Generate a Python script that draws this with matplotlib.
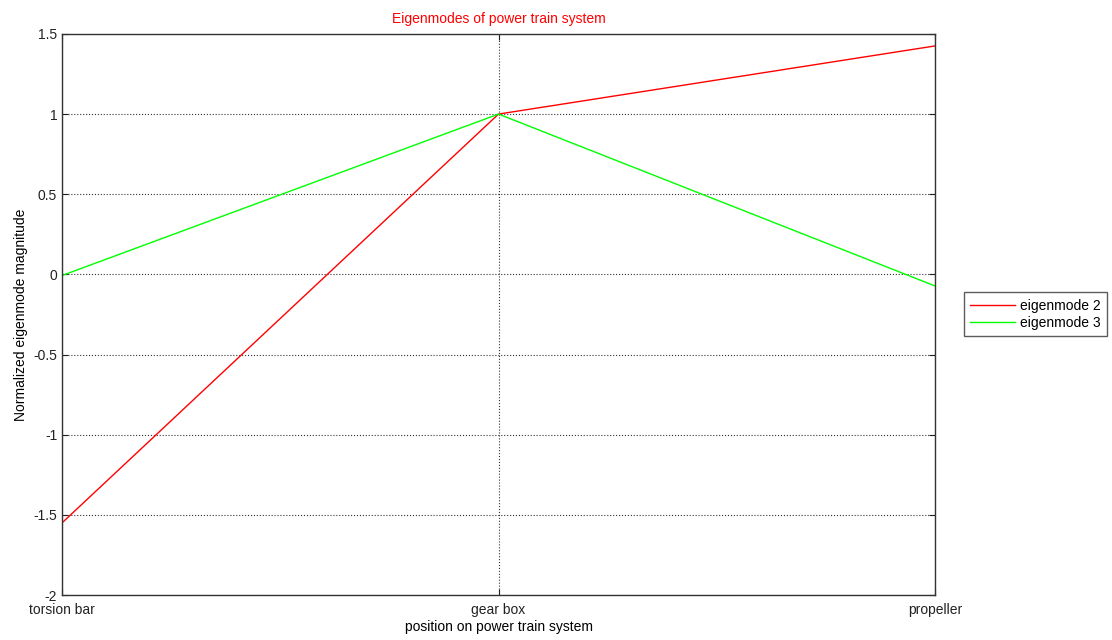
import matplotlib.pyplot as plt

plt.rcParams['font.family'] = ['Liberation Sans', 'DejaVu Sans']

positions = ['torsion bar', 'gear box', 'propeller']
mode2 = [-1.55, 1.0, 1.425]
mode3 = [-0.007, 1.0, -0.072]
yticks = [-2, -1.5, -1, -0.5, 0, 0.5, 1, 1.5]

fig = plt.figure(figsize=(11.12, 6.4), dpi=100)
ax = fig.add_axes([0.0558, 0.0703, 0.785, 0.8767])

x = range(len(positions))
ax.plot(x, mode2, color='#ff0000', lw=1, label='eigenmode 2')
ax.plot(x, mode3, color='#00ff00', lw=1, label='eigenmode 3')

ax.set_xlim(0, 2)
ax.set_ylim(-2, 1.5)
ax.set_xticks(list(x))
ax.set_xticklabels(positions)
ax.set_yticks(yticks)
ax.set_yticklabels(['%g' % v for v in yticks])
ax.tick_params(direction='in', length=4, labelsize=10, colors='#222222', right=True, top=True)
ax.tick_params(axis='x', pad=6)
ax.grid(True, linestyle=':', color='#333333', lw=0.8)
for s in ax.spines.values():
    s.set_color('#333333')
    s.set_linewidth(1)

ax.set_title('Eigenmodes of power train system', color='#ff0000', fontsize=10, pad=8)
ax.set_xlabel('position on power train system', fontsize=10, labelpad=2)
ax.set_ylabel('Normalized eigenmode magnitude', fontsize=10, labelpad=4)

leg = fig.legend(loc='center left', bbox_to_anchor=(0.867, 0.509), fontsize=10,
                 frameon=True, fancybox=False, edgecolor='#333333',
                 handlelength=3.2, borderpad=0.45, labelspacing=0.25, handletextpad=0.4,
                 borderaxespad=0)
leg.get_frame().set_linewidth(1)

fig.savefig('out.png', dpi=100)
